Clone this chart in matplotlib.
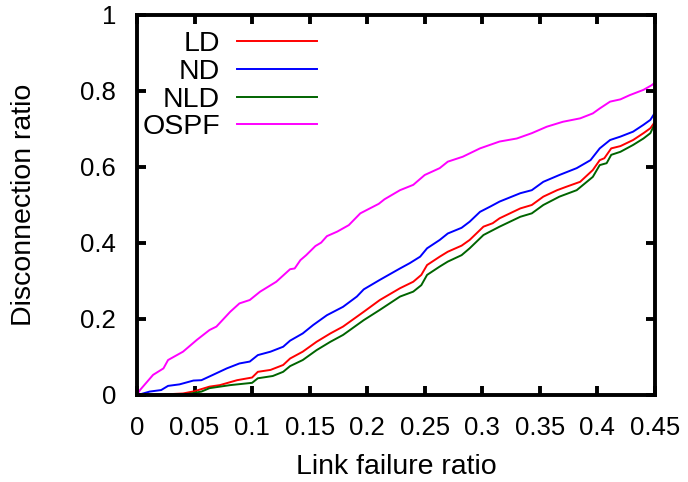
import matplotlib.pyplot as plt

# link failure ratio / disconnection ratio
ld_x = [0, 0.02, 0.04, 0.05, 0.063, 0.072, 0.087, 0.1, 0.105, 0.116, 0.127, 0.133,
        0.144, 0.156, 0.168, 0.179, 0.197, 0.211, 0.2285, 0.24, 0.247, 0.252, 0.263,
        0.27, 0.282, 0.289, 0.301, 0.309, 0.315, 0.333, 0.343, 0.353, 0.365, 0.373,
        0.385, 0.396, 0.402, 0.406, 0.412, 0.42, 0.431, 0.44, 0.446, 0.45]
ld_y = [0, 0.001, 0.004, 0.01, 0.022, 0.026, 0.039, 0.046, 0.061, 0.066, 0.079, 0.096,
        0.114, 0.14, 0.162, 0.18, 0.219, 0.25, 0.281, 0.298, 0.316, 0.342, 0.364,
        0.377, 0.393, 0.408, 0.443, 0.452, 0.465, 0.491, 0.5, 0.522, 0.539, 0.548,
        0.561, 0.592, 0.618, 0.623, 0.649, 0.655, 0.671, 0.689, 0.702, 0.719]

nd_x = [0, 0.003, 0.011, 0.021, 0.027, 0.037, 0.049, 0.056, 0.066, 0.078, 0.089,
        0.098, 0.105, 0.116, 0.127, 0.133, 0.144, 0.153, 0.165, 0.179, 0.191, 0.197,
        0.211, 0.2285, 0.237, 0.246, 0.252, 0.263, 0.27, 0.282, 0.289, 0.298, 0.307,
        0.315, 0.333, 0.343, 0.353, 0.367, 0.382, 0.394, 0.402, 0.411, 0.42, 0.431,
        0.44, 0.446, 0.45]
nd_y = [0, 0.002, 0.009, 0.013, 0.024, 0.028, 0.038, 0.039, 0.053, 0.07, 0.083,
        0.088, 0.105, 0.114, 0.127, 0.143, 0.162, 0.184, 0.21, 0.232, 0.259, 0.278,
        0.303, 0.333, 0.347, 0.364, 0.386, 0.408, 0.425, 0.44, 0.456, 0.482, 0.496,
        0.509, 0.531, 0.539, 0.561, 0.579, 0.597, 0.618, 0.649, 0.671, 0.68, 0.693,
        0.711, 0.724, 0.743]

nld_x = [0, 0.03, 0.045, 0.056, 0.063, 0.081, 0.1, 0.105, 0.118, 0.127, 0.133, 0.144,
         0.156, 0.168, 0.179, 0.197, 0.211, 0.2285, 0.24, 0.247, 0.252, 0.263, 0.27,
         0.282, 0.289, 0.301, 0.315, 0.333, 0.343, 0.353, 0.367, 0.382, 0.396, 0.402,
         0.408, 0.412, 0.42, 0.431, 0.44, 0.446, 0.45]
nld_y = [0, 0.001, 0.003, 0.009, 0.018, 0.026, 0.032, 0.044, 0.05, 0.061, 0.076, 0.092,
         0.118, 0.14, 0.158, 0.197, 0.224, 0.259, 0.272, 0.289, 0.316, 0.338, 0.351,
         0.368, 0.386, 0.421, 0.443, 0.469, 0.478, 0.5, 0.522, 0.539, 0.574, 0.605,
         0.61, 0.632, 0.64, 0.658, 0.675, 0.689, 0.715]

ospf_x = [0, 0.0026, 0.014, 0.023, 0.027, 0.04, 0.052, 0.063, 0.069, 0.081, 0.089,
          0.098, 0.107, 0.121, 0.133, 0.137, 0.142, 0.147, 0.155, 0.16, 0.165, 0.174,
          0.184, 0.194, 0.201, 0.21, 0.215, 0.2285, 0.24,
          0.25, 0.263, 0.27, 0.283, 0.298, 0.315, 0.33, 0.343, 0.356, 0.37, 0.385,
          0.396, 0.402, 0.411, 0.42, 0.428, 0.44, 0.447, 0.45]
ospf_y = [0, 0.013, 0.053, 0.07, 0.092, 0.114, 0.145, 0.171, 0.18, 0.219, 0.241,
          0.25, 0.272, 0.298, 0.331, 0.333, 0.355, 0.368, 0.392, 0.401, 0.418, 0.43,
          0.447, 0.478, 0.489, 0.503, 0.515, 0.539, 0.553,
          0.579, 0.597, 0.614, 0.627, 0.649, 0.667, 0.675, 0.689, 0.706, 0.719, 0.728,
          0.741, 0.754, 0.772, 0.778, 0.789, 0.803, 0.815, 0.822]

x_ticks = [0, 0.05, 0.1, 0.15, 0.2, 0.25, 0.3, 0.35, 0.4, 0.45]
x_labels = ['0', '0.05', '0.1', '0.15', '0.2', '0.25', '0.3', '0.35', '0.4', '0.45']
y_ticks = [0, 0.2, 0.4, 0.6, 0.8, 1]
y_labels = ['0', '0.2', '0.4', '0.6', '0.8', '1']

plt.rcParams['font.family'] = ['Liberation Sans', 'DejaVu Sans']
plt.rcParams['font.size'] = 20.5

fig = plt.figure(figsize=(6.88, 4.82), dpi=100)
ax = fig.add_axes([0.1991, 0.1805, 0.7529, 0.7884])

lw = 1.4
ax.plot(ld_x, ld_y, color='#ff0000', lw=lw, label='LD')
ax.plot(nd_x, nd_y, color='#0000ff', lw=lw, label='ND')
ax.plot(nld_x, nld_y, color='#006400', lw=lw, label='NLD')
ax.plot(ospf_x, ospf_y, color='#ff00ff', lw=lw, label='OSPF')

ax.set_xlim(0, 0.45)
ax.set_ylim(0, 1)
ax.set_xticks(x_ticks)
ax.set_xticklabels(x_labels, fontsize=18.5)
ax.set_yticks(y_ticks)
ax.set_yticklabels(y_labels, fontsize=18.5)

for s in ax.spines.values():
    s.set_linewidth(2.8)
ax.tick_params(direction='in', length=6.5, width=2.8, top=True, right=True)
ax.tick_params(axis='x', pad=15)
ax.tick_params(axis='y', pad=15)

ax.set_xlabel('Link failure ratio', labelpad=10)
ax.set_ylabel('Disconnection ratio', labelpad=31)

ax.legend(loc='upper right', bbox_to_anchor=(0.347, 0.957), frameon=False,
          markerfirst=False, handlelength=2.8, handletextpad=0.6,
          labelspacing=0.06, borderpad=0, borderaxespad=0)

fig.savefig('out.png', dpi=100)
